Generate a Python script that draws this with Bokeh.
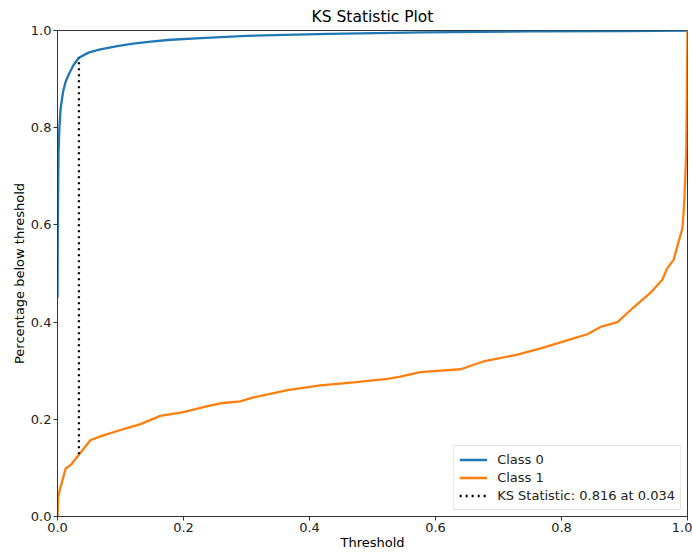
from bokeh.plotting import figure
from bokeh.embed import file_html
from bokeh.resources import INLINE
from bokeh.models import Legend, LegendItem, FixedTicker, PrintfTickFormatter, Range1d

# Data
thr0 = [0.0, 0.0005, 0.0016, 0.003, 0.005, 0.009, 0.013, 0.018, 0.025, 0.034,
        0.05, 0.068, 0.095, 0.12, 0.148, 0.18, 0.22, 0.3, 0.43, 0.58, 0.75, 0.9, 1.0]
class0 = [0.45, 0.6, 0.746, 0.80, 0.84, 0.875, 0.895, 0.91, 0.928, 0.944,
          0.955, 0.961, 0.968, 0.973, 0.977, 0.981, 0.984, 0.989, 0.993, 0.996, 0.998, 0.999, 1.0]

thr1 = [0.0, 0.001, 0.005, 0.013, 0.021, 0.034, 0.052, 0.068, 0.105, 0.132, 0.163,
        0.2, 0.238, 0.259, 0.29, 0.311, 0.365, 0.417, 0.47, 0.524, 0.544, 0.576, 0.597,
        0.64, 0.676, 0.73, 0.767, 0.81, 0.841, 0.862, 0.889, 0.914, 0.941, 0.96,
        0.968, 0.978, 0.986, 0.992, 0.995, 0.998, 1.0]
class1 = [0.0, 0.04, 0.061, 0.099, 0.106, 0.127, 0.157, 0.165, 0.18, 0.19, 0.207,
          0.215, 0.227, 0.233, 0.237, 0.245, 0.26, 0.27, 0.276, 0.283, 0.288, 0.297, 0.299,
          0.303, 0.319, 0.333, 0.346, 0.363, 0.375, 0.39, 0.40, 0.43, 0.46, 0.487,
          0.511, 0.528, 0.566, 0.593, 0.65, 0.75, 1.0]

ks_stat = 0.816
ks_thr = 0.034
ks_low = 0.128
ks_high = 0.944

ticks = [0.0, 0.2, 0.4, 0.6, 0.8, 1.0]
FONT = "DejaVu Sans"

p = figure(width=692, height=552, output_backend="svg", toolbar_location=None,
           x_range=Range1d(0, 1), y_range=Range1d(0, 1),
           title="KS Statistic Plot",
           min_border_left=57, min_border_right=5, min_border_top=28, min_border_bottom=30)

p.title.align = "center"
p.title.text_font = FONT
p.title.text_font_size = "15.5px"
p.title.text_font_style = "normal"
p.title.text_color = "black"
p.title.offset = 0

p.grid.visible = False
p.outline_line_color = "#333333"
p.outline_line_width = 1

for ax in (p.xaxis[0], p.yaxis[0]):
    ax.ticker = FixedTicker(ticks=ticks)
    ax.formatter = PrintfTickFormatter(format="%.1f")
    ax.major_label_text_font = FONT
    ax.major_label_text_font_size = "13px"
    ax.major_label_text_color = "#222222"
    ax.major_label_standoff = 2
    ax.axis_label_text_font = FONT
    ax.axis_label_text_font_size = "13px"
    ax.axis_label_text_font_style = "normal"
    ax.axis_label_text_color = "black"
    ax.minor_tick_line_color = None
    ax.major_tick_out = 4
    ax.major_tick_in = 0
    ax.axis_line_color = "#333333"
    ax.major_tick_line_color = "#333333"
    ax.axis_label_standoff = 0

p.yaxis.axis_label_standoff = 1
p.xaxis.axis_label = "Threshold"
p.yaxis.axis_label = "Percentage below threshold"

r0 = p.line(thr0, class0, line_color="#1f77b4", line_width=2.3)
r1 = p.line(thr1, class1, line_color="#ff7f0e", line_width=2.3)
rk = p.line([ks_thr, ks_thr], [ks_low, ks_high], line_color="black", line_width=2.3,
            line_dash="2 4")

legend = Legend(items=[
    LegendItem(label="Class 0", renderers=[r0]),
    LegendItem(label="Class 1", renderers=[r1]),
    LegendItem(label="KS Statistic: %.3f at %.3f" % (ks_stat, ks_thr), renderers=[rk]),
], location="bottom_right")
legend.label_text_font = FONT
legend.label_text_font_size = "13px"
legend.label_text_color = "#222222"
legend.border_line_color = "#cccccc"
legend.border_line_width = 1
legend.glyph_width = 28
legend.label_height = 17
legend.glyph_height = 17
legend.spacing = 1
legend.padding = 5
legend.margin = 6
legend.label_standoff = 10
p.add_layout(legend)

open("out.html", "w").write(file_html(p, INLINE))
